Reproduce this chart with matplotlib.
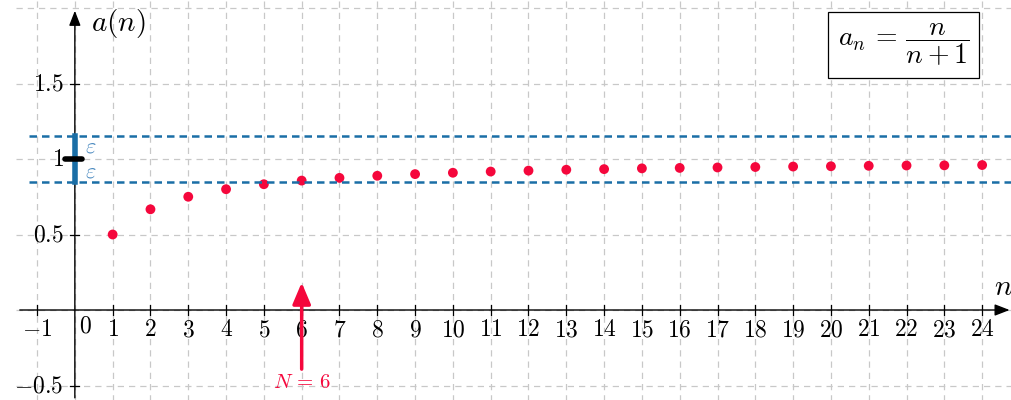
import numpy as np
import matplotlib
matplotlib.use("Agg")
import matplotlib.pyplot as plt

plt.rcParams['mathtext.fontset'] = 'cm'
plt.rcParams['font.family'] = 'serif'
plt.rcParams['font.serif'] = ['DejaVu Serif']

# data
n = np.arange(1, 25)
a_n = [0.5, 0.667, 0.75, 0.8, 0.833, 0.857, 0.875, 0.889, 0.9, 0.909, 0.917, 0.923,
       0.929, 0.933, 0.938, 0.941, 0.944, 0.947, 0.95, 0.952, 0.955, 0.957, 0.958, 0.96]
limit = 1.0
eps = 0.15
N = 6
x_ticks = list(range(-1, 25))
y_ticks = [-0.5, 0.5, 1.0, 1.5]
y_tick_labels = ['$-0.5$', '$0.5$', '$1$', '$1.5$']

red = '#f5073c'
blue = '#1a6ea6'

fig = plt.figure(figsize=(10.12, 4.0), dpi=100)
ax = fig.add_axes([0, 0, 1, 1])
ax.set_xlim(-1.98, 24.79)
ax.set_ylim(-0.596, 2.053)
ax.axis('off')

# grid
for gx in range(-1, 25):
    ax.plot([gx, gx], [-0.6, 2.06], color='#c8c8c8', lw=0.9, ls=(0, (5, 4)), zorder=0)
for gy in [-0.5, 0, 0.5, 1.0, 1.5, 2.0]:
    ax.plot([-1.55, 24.8], [gy, gy], color='#c8c8c8', lw=0.9, ls=(0, (5, 4)), zorder=0)

# axes with arrows
ax.annotate('', xy=(24.8, 0), xytext=(-1.53, 0),
            arrowprops=dict(arrowstyle='-|>,head_length=0.9,head_width=0.35', color='black', lw=1.0))
ax.annotate('', xy=(0, 2.0), xytext=(0, -0.6),
            arrowprops=dict(arrowstyle='-|>,head_length=0.9,head_width=0.35', color='black', lw=1.0))

# ticks
for tx in x_ticks:
    if tx != 0:
        ax.plot([tx, tx], [-0.03, 0.03], color='black', lw=0.9)
        ax.text(tx, -0.055, '$%d$' % tx if tx >= 0 else '$-%d$' % -tx,
                ha='center', va='top', fontsize=17)
ax.text(0.27, -0.03, '$0$', ha='center', va='top', fontsize=17)
for ty, lab in zip(y_ticks, y_tick_labels):
    ax.plot([-0.12, 0.12], [ty, ty], color='black', lw=0.9)
    ax.text(-0.3, ty, lab, ha='right', va='center', fontsize=17)

ax.text(0.42, 1.9, '$a(n)$', ha='left', va='center', fontsize=21)
ax.text(24.55, 0.15, '$n$', ha='center', va='center', fontsize=21)

# epsilon band
ax.plot([-1.2, 24.8], [limit + eps, limit + eps], color=blue, lw=1.8, ls=(0, (3, 2)), zorder=4)
ax.plot([-1.2, 24.8], [limit - eps, limit - eps], color=blue, lw=1.8, ls=(0, (3, 2)), zorder=4)
ax.plot([0, 0], [limit - eps, limit + eps], color=blue, lw=4, zorder=5)
ax.plot([-0.25, 0.2], [limit, limit], color='black', lw=4, solid_capstyle='round', zorder=6)
ax.text(0.42, limit + 0.08, r'$\varepsilon$', color='#4a8ac0', ha='center', va='center', fontsize=16)
ax.text(0.42, limit - 0.08, r'$\varepsilon$', color='#4a8ac0', ha='center', va='center', fontsize=16)

# sequence points
ax.scatter(n, a_n, s=50, color=red, zorder=3, edgecolors='none')

# N arrow
ax.annotate('', xy=(N, 0.2), xytext=(N, -0.41),
            arrowprops=dict(arrowstyle='-|>,head_length=1.3,head_width=0.55', color=red, lw=2.5))
ax.text(N, -0.48, r'$N\,=\,6$', color=red, ha='center', va='center', fontsize=15)

# formula box
ax.text(21.93, 1.755, r'$a_n\,=\,\dfrac{n}{n+1}$', ha='center', va='center', fontsize=20,
        bbox=dict(boxstyle='square,pad=0.35', fc='white', ec='black', lw=0.9))

plt.savefig('out.png', dpi=100)
